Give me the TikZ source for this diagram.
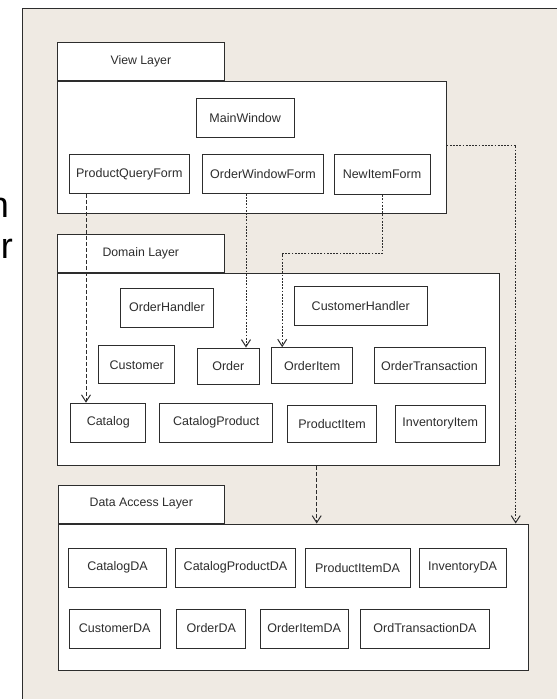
\documentclass[tikz,border=0pt]{standalone}
\usepackage{fontspec}
\setmainfont{Liberation Sans}
\usetikzlibrary{arrows.meta}

\definecolor{panel}{RGB}{239,234,227}
\definecolor{ink}{RGB}{45,45,45}

\tikzset{
    layer/.style={draw=ink, fill=white, line width=1pt, inner sep=0pt},
    tab/.style={layer, minimum width=167pt, minimum height=38pt, font=\fontsize{12.3}{14}\selectfont, text=ink},
    cls/.style={layer, minimum height=39pt, font=\fontsize{12.5}{15}\selectfont, text=ink},
    dep/.style={draw=ink, line width=1pt, -{Straight Barb[length=7pt,width=9pt]}},
    dashdep/.style={dep, dash pattern=on 4pt off 2pt},
    dotdep/.style={dep, dash pattern=on 1.8pt off 1.4pt}
}

\begin{document}
\begin{tikzpicture}[x=1pt,y=-1pt]
    \useasboundingbox (0,0) rectangle (557,699);
    \fill[panel] (22.7,8.3) rectangle (570,710);
    \draw[ink, line width=1pt] (22.7,710) -- (22.7,8.3) -- (570,8.3);

    \node[anchor=base east, inner sep=0pt, font=\fontsize{36}{40}\selectfont] (cutn) at (9,217) {n};
    \node[anchor=base east, inner sep=0pt, font=\fontsize{36}{40}\selectfont] (cutr) at (13,258) {r};

    \node[layer, minimum width=388.7pt, minimum height=132.3pt] (view) at (251.7,147.2) {};
    \node[tab, anchor=south west] (viewtab) at (view.north west) {View Layer};
    \node[layer, minimum width=442pt, minimum height=192.4pt] (domain) at (278.3,369.5) {};
    \node[tab, anchor=south west] (domaintab) at (domain.north west) {Domain Layer};
    \node[layer, minimum width=470.4pt, minimum height=146pt] (data) at (293.5,597) {};
    \node[tab, anchor=south west, minimum width=166pt] (datatab) at (data.north west) {Data Access Layer};

    \node[cls, minimum width=98pt] (mainwindow) at (245.2,117.8) {MainWindow};
    \node[cls, minimum width=120pt] (pqform) at (129.3,173.8) {ProductQueryForm};
    \node[cls, minimum width=120.6pt] (owform) at (263,173.8) {OrderWindowForm};
    \node[cls, minimum width=96pt, minimum height=40pt] (niform) at (382,174.7) {NewItemForm};

    \node[cls, minimum width=92.6pt] (orderhandler) at (167,307.5) {OrderHandler};
    \node[cls, minimum width=133.3pt] (customerhandler) at (360.7,305.8) {CustomerHandler};
    \node[cls, minimum width=75.7pt, minimum height=38.3pt] (customer) at (136.8,364.8) {Customer};
    \node[cls, minimum width=62pt, minimum height=36pt] (order) at (228.3,366) {Order};
    \node[cls, minimum width=81pt, minimum height=36.3pt] (orderitem) at (312.2,365.8) {OrderItem};
    \node[cls, minimum width=111pt, minimum height=36.3pt] (ordertransaction) at (429.5,365.8) {OrderTransaction};
    \node[cls, minimum width=75.3pt] (catalog) at (108.3,422.7) {Catalog};
    \node[cls, minimum width=112.7pt] (catalogproduct) at (216.3,422.7) {CatalogProduct};
    \node[cls, minimum width=89.4pt, minimum height=37.3pt] (productitem) at (332,423.7) {ProductItem};
    \node[cls, minimum width=89.7pt, minimum height=37.3pt] (inventoryitem) at (440.2,423.7) {InventoryItem};

    \node[cls, minimum width=98.4pt] (catalogda) at (117.5,567.7) {CatalogDA};
    \node[cls, minimum width=119.6pt] (catalogproductda) at (235.5,567.7) {CatalogProductDA};
    \node[cls, minimum width=105pt] (productitemda) at (357.5,567.7) {ProductItemDA};
    \node[cls, minimum width=87pt] (inventoryda) at (462.5,567.7) {InventoryDA};
    \node[cls, minimum width=90.7pt] (customerda) at (114.7,628.5) {CustomerDA};
    \node[cls, minimum width=69.3pt] (orderda) at (211.3,628.5) {OrderDA};
    \node[cls, minimum width=88.3pt] (orderitemda) at (304.2,628.5) {OrderItemDA};
    \node[cls, minimum width=128.6pt] (ordtransactionda) at (425,628.5) {OrdTransactionDA};

    \draw[dashdep] ([xshift=-43.3pt]pqform.south) -- ([xshift=-43.3pt]pqform.south |- catalog.north);
    \draw[dotdep] ([xshift=-17pt]owform.south) -- ([xshift=-17pt]owform.south |- order.north);
    \draw[dotdep] (niform.south) -- ++(0,58.5) -| ([xshift=-30pt]orderitem.north);
    \draw[dotdep] ([yshift=2pt]view.east) -| ([xshift=222.2pt]data.north);
    \draw[dashdep] ([xshift=38.4pt]domain.south) -- ([xshift=38.4pt]domain.south |- data.north);
\end{tikzpicture}
\end{document}
